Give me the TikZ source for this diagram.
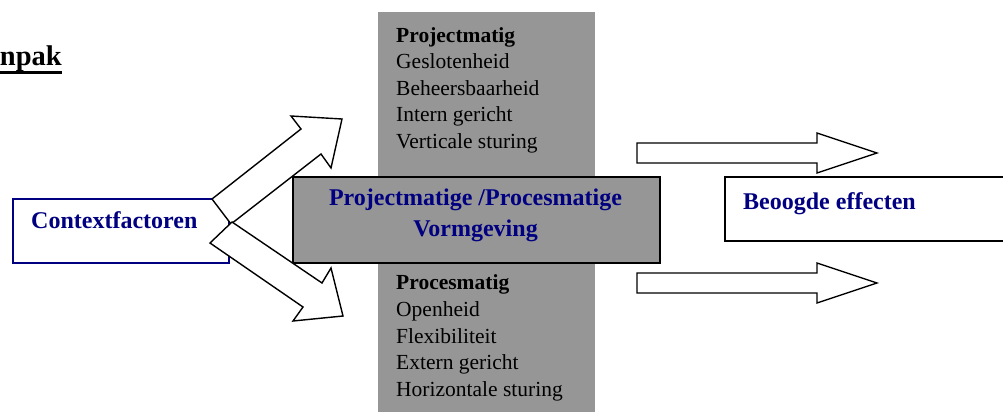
\documentclass[tikz,border=0pt]{standalone}
\usepackage{fontspec}
\setmainfont{Liberation Serif}
\definecolor{panelgray}{RGB}{150,150,150}
\definecolor{navytext}{RGB}{0,0,128}

\begin{document}
\begin{tikzpicture}[x=1pt,y=-1pt,
  blockarrow/.style={draw=black, fill=white, line width=1.4pt, line join=miter},
  boxframe/.style={draw=black, line width=1.8pt, anchor=north west, inner sep=0pt},
  listline/.style={anchor=base west, inner sep=0pt, text=black,
    font=\fontsize{21.5}{26}\selectfont},
  listhead/.style={listline, font=\fontsize{21.5}{26}\selectfont\bfseries},
  bluelabel/.style={inner sep=0pt, text=navytext,
    font=\fontsize{24}{30}\selectfont\bfseries}
]
\useasboundingbox (0,0) rectangle (1003,414);
\clip (0,0) rectangle (1003,414);

% heading
\node[anchor=base east, inner sep=0pt, font=\fontsize{28.5}{34}\selectfont\bfseries]
  (title) at (62,65.5) {npak};
\draw[line width=3pt] (title.base west |- 0,72.5) -- (title.base east |- 0,72.5);

% vertical grey panel behind the central block
\fill[panelgray] (378,12) rectangle (595,412);

% central block
\node[boxframe, fill=panelgray, minimum width=367pt, minimum height=86pt]
  (core) at (292,176) {};
\node[bluelabel, anchor=base] (coreA) at (475.5,205) {Projectmatige /Procesmatige};
\node[bluelabel, anchor=base] (coreB) at (475.5,236) {Vormgeving};

% context box
\node[boxframe, draw=navytext, fill=white, minimum width=216pt, minimum height=64pt]
  (ctx) at (12,198) {};
\node[bluelabel, anchor=base west] (ctxlabel) at (31,228.3) {Contextfactoren};

% effects box, running past the right border
\node[boxframe, fill=white, minimum width=300pt, minimum height=64pt]
  (effect) at (724,176) {};
\node[bluelabel, anchor=base west] (effectlabel) at (743,209.3) {Beoogde effecten};

% list of the project-like properties
\node[listhead] (pmhead) at (396,42.5) {Projectmatig};
\foreach \t [count=\i from 1] in {Geslotenheid, Beheersbaarheid, Intern gericht, Verticale sturing}
  \node[listline] (pm\i) at (396,{42.5+26.4*\i}) {\t};

% list of the process-like properties
\node[listhead] (pchead) at (396,289.3) {Procesmatig};
\foreach \t [count=\i from 1] in {Openheid, Flexibiliteit, Extern gericht, Horizontale sturing}
  \node[listline] (pc\i) at (396,{289.3+26.85*\i}) {\t};

% block arrows from the context box
\draw[blockarrow] (212,199) -- (301,129) -- (291,116) -- (342,119) -- (331,168)
  -- (321,154) -- (231,224) -- cycle;
\draw[blockarrow] (232,222) -- (322,283) -- (331,268) -- (343,316) -- (293,321)
  -- (303,307) -- (210,243) -- cycle;

% block arrows towards the effects
\draw[blockarrow] (637,143) -- (817,143) -- (817,133) -- (877,153) -- (817,173)
  -- (817,163) -- (637,163) -- cycle;
\draw[blockarrow] (637,273) -- (817,273) -- (817,263) -- (877,283) -- (817,303)
  -- (817,293) -- (637,293) -- cycle;
\end{tikzpicture}
\end{document}
